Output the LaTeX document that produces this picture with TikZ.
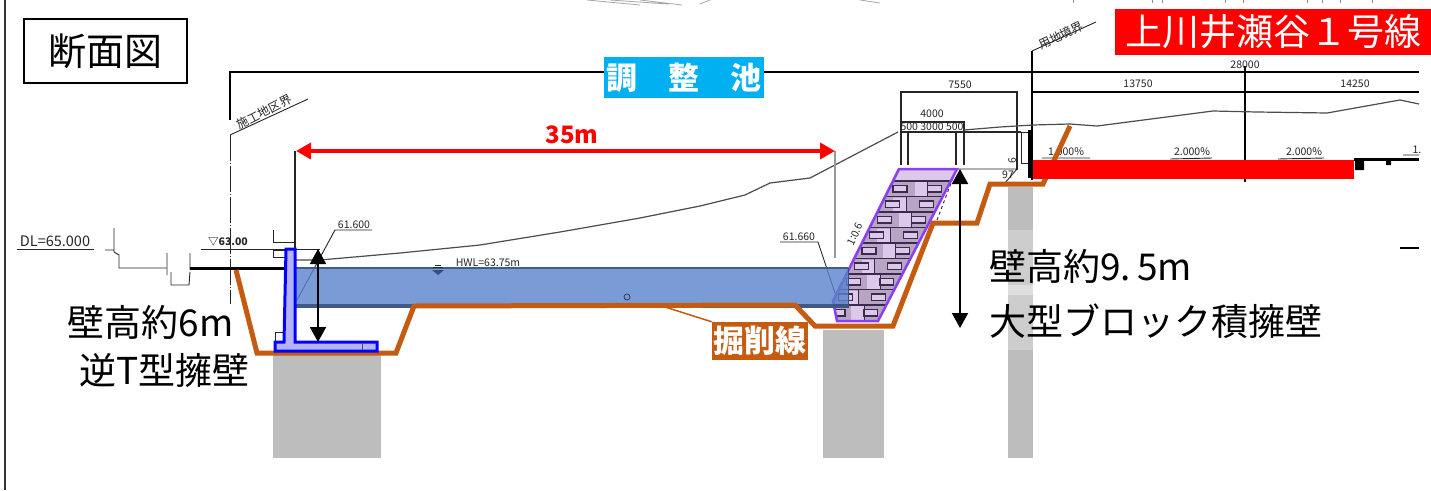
\documentclass[tikz,border=0pt]{standalone}
\usepackage{fontspec}
\setmainfont{Noto Sans CJK JP}
\usetikzlibrary{arrows.meta}
\definecolor{cutline}{HTML}{C55A11}
\definecolor{pondblue}{HTML}{5A83CC}
\definecolor{pilegrey}{HTML}{BDBDBD}
\definecolor{skyblue}{HTML}{00B0F0}
\definecolor{brickline}{HTML}{3A2A4E}
\definecolor{brickfill}{HTML}{DCC8E8}
\definecolor{brickdark}{HTML}{B8A5C4}
\begin{document}
\begin{tikzpicture}[x=1pt,y=-1pt,
		bigtext/.style={font=\fontsize{37}{40}\selectfont,inner sep=0pt},
		small/.style={font=\fontsize{10.5}{12}\selectfont,inner sep=0pt,text=black!85},
		thinline/.style={black!85,line width=0.9pt},
		dimline/.style={black,line width=1.4pt},
		pile/.style={fill=pilegrey,draw=none},
		span/.style={{Triangle[length=15pt,width=16pt]}-{Triangle[length=15pt,width=16pt]},line width=2pt},
		redspan/.style={{Triangle[length=15pt,width=16pt]}-{Triangle[length=15pt,width=16pt]},line width=4pt,red}]
	\useasboundingbox (0,0) rectangle (1431,490);
	\fill[white] (0,0) rectangle (1431,490);
	\draw[line width=2.5pt,black!80] (5,0) -- (5,490);
	\draw[black!35,line width=0.8pt] (587,0) -- (640,5) (610,0) -- (668,4) (640,0) -- (682,5) (700,4) -- (710,0) (860,0) -- (880,3);
	\draw[black!45,line width=0.8pt] (1073,0) -- (1073,3) (1152,0) -- (1152,3) (1162,0) -- (1162,3) (1225,0) -- (1225,3) (1243,0) -- (1243,3) (1307,0) -- (1307,3) (1322,0) -- (1322,3) (1340,0) -- (1340,3) (1372,0) -- (1372,3);
	\path[pile] (273,355) rectangle (381,458);
	\path[pile] (823,330) rectangle (884,458);
	\path[pile] (1008,187) rectangle (1033,458);
	\path[fill=pilegrey!75] (1008,230) rectangle (1033,350);
	\path[fill=pilegrey!50] (1008,285) rectangle (1033,295);
	\node[draw,line width=1.5pt,minimum width=163pt,minimum height=64pt,font=\fontsize{38}{40}\selectfont,inner sep=0pt] (title) at (105.5,51) {断面図};
	\draw[dimline] (230,120) -- (230,72) -- (1419,72);
	\draw[thinline] (230,135) -- (308,99);
	\draw[thinline,dash pattern=on 26pt off 2pt on 1pt off 2pt] (230,135) -- (230,304);
	\node[small,font=\fontsize{12}{14}\selectfont,rotate=27] (boundl) at (264,112) {施工地区界};
	\draw[dimline] (1032,180) -- (1032,51);
	\draw[thinline] (1032,51) -- (1096,22);
	\node[small,font=\fontsize{12}{14}\selectfont,rotate=25] (boundr) at (1061,35) {用地境界};
	\draw[dimline] (1032,92) -- (1419,92);
	\draw[dimline] (1245,66) -- (1245,182);
	\node[small] (w28000) at (1245,65) {28000};
	\node[small] (w13750) at (1138,84) {13750};
	\node[small] (w14250) at (1355,84) {14250};
	\node[small] (w7550) at (960,85) {7550};
	\draw[thinline,line width=1.2pt] (901,165) -- (901,92) -- (1017,92) -- (1017,170);
	\draw[thinline,line width=1.2pt] (901,122) -- (964,122) -- (964,165);
	\draw[thinline,line width=1.2pt] (901,132) -- (1021,132) (908,132) -- (908,165) (956,132) -- (956,165);
	\draw[thinline] (899,169) -- (1017,169) -- (1004,184);
	\node[small] (w4000) at (932,114) {4000};
	\node[small] (w3000) at (932,127) {500 3000 500};
	\node[small,rotate=90] (h6) at (1012,161) {6};
	\node[small] (h97) at (1008,175) {97};
	\draw[thinline] (1021,163) rectangle (1030,132);
	\draw[black,line width=3.5pt] (1030,130) -- (1030,178);
	\draw[thinline,black!70,line width=1.2pt] (296,260) -- (320,260) -- (400,253) -- (480,245) -- (560,232) -- (640,218) -- (700,206) -- (745,195) -- (770,183) -- (810,178) -- (898,132);
	\draw[thinline,black!70,line width=1.2pt] (964,130) -- (1000,127) -- (1033,125) -- (1070,124) -- (1097,126) -- (1213,111) -- (1257,112) -- (1327,113) -- (1400,100) -- (1419,104);
	\node[small] (s1) at (1066,152) {1.000\%};
	\node[small] (s2) at (1192,152) {2.000\%};
	\node[small] (s3) at (1304,152) {2.000\%};
	\node[small] (s4) at (1417,150) {1.};
	\draw[thinline] (1042,158) -- (1090,158) (1170,159) -- (1212,158) (1278,159) -- (1324,158) (1403,155) -- (1419,155);
	\draw[black,line width=3pt] (1354,159) -- (1419,159);
	\fill[black] (1355,160) rectangle (1364,170) (1386,160) rectangle (1391,165);
	\draw[black,line width=1.4pt] (1400,248) -- (1419,248);
	\node[small,font=\fontsize{14.5}{16}\selectfont] (dl) at (55,241) {DL=65.000};
	\draw[thinline] (17,249) -- (94,249);
	\draw[thinline] (114,228) -- (114,252) (105,250) -- (114,250) (114,252) -- (119,255) -- (119,268) -- (166,268) (167,253) -- (167,275) (171,272) -- (171,285) -- (189,285) -- (190,272) (190,253) -- (190,270);
	\draw[black,line width=3pt] (190,268) -- (285,268);
	\node[small,font=\bfseries\fontsize{10.5}{12}\selectfont] (lvl) at (228,242) {▽63.00};
	\draw[thinline] (201,249) -- (320,249);
	\draw[thinline] (273,230) -- (273,242) -- (295,242) (273,250) rectangle (285,257) (275,342) -- (275,332) -- (284,332);
	\draw[thinline,line width=1.4pt] (295,151) -- (295,262);
	\draw[black!40,line width=2pt] (835,151) -- (835,258);
	\node[small] (el1) at (354,225) {61.600};
	\draw[thinline] (372,230) -- (335,230) -- (297,300);
	\node[small] (el2) at (799,237) {61.660};
	\draw[thinline] (780,242) -- (818,242) -- (835,293);
	\draw[thinline,dashed] (953,178) -- (937,220);
	\begin{scope}
		\clip (899,169) -- (957,169) -- (878,321) -- (837,321) -- (833,301) -- cycle;
		\fill[brickfill] (820,165) rectangle (970,181);
		\fill[brickdark] (820,181) rectangle (970,325);
		\foreach \row in {0,...,8}{
			\pgfmathsetmacro\rowtop{181+15.5*\row}
			\pgfmathsetmacro\rowleft{899-0.5*(\rowtop+8-169)}
			\pgfmathsetmacro\rowright{957-0.52*(\rowtop+8-169)}
			\pgfmathsetmacro\joint{\rowleft+(\rowright-\rowleft)*(0.5+0.12*(-1)^\row)}
			\fill[brickfill] (\joint-10,\rowtop+1) rectangle (\joint+3,\rowtop+14.5);
			\draw[brickline,line width=1.4pt] (\rowleft-20,\rowtop) -- (\rowright+20,\rowtop);
			\draw[brickline,line width=1.2pt,fill=brickfill] (\rowleft+4,\rowtop+4.5) rectangle ++(14,6.5);
			\draw[brickline,line width=1.2pt,fill=brickfill] (\rowright-19,\rowtop+4.5) rectangle ++(14,6.5);
			\draw[brickline,line width=1pt] (\joint+3,\rowtop) -- ++(0,15.5);
		}
	\end{scope}
	\draw[line width=2.5pt,draw={rgb,255:red,138;green,63;blue,240}] (899,169) -- (957,169) -- (878,321) -- (837,321) -- (833,301) -- cycle;
	\node[small,rotate=63] (grade) at (855,234) {1:0.6};
	\fill[pondblue,opacity=0.8] (296,268) rectangle (848,308);
	\fill[pondblue!60!black,opacity=0.85] (296,304) rectangle (848,308);
	\draw[pondblue!70!black,line width=1.5pt] (296,268) -- (848,268);
	\draw[pondblue!60!black,line width=0.8pt] (848,268) -- (848,308);
	\fill[pondblue!60!black] (432,270) -- (444,270) -- (438,275) -- cycle;
	\draw[thinline] (433,267) -- (443,267) (435,265) -- (441,265);
	\node[small] (hwl) at (488,263) {HWL=63.75m};
	\draw[pondblue!40!black,line width=0.7pt] (627,297) circle (3pt);
	\draw[cutline,line width=5pt,line join=miter] (236,270) -- (257,353) -- (396,353) -- (414,306) -- (795,305) -- (815,326) -- (893,326) -- (933,223) -- (977,223) -- (990,184) -- (1043,184) -- (1070,126);
	\draw[line width=3pt,blue,fill={rgb,255:red,179;green,179;blue,245}] (286,249) -- (295,249) -- (295,342) -- (377,342) -- (377,351) -- (275,351) -- (275,342) -- (284,342) -- cycle;
	\draw[black!70,line width=0.9pt] (362,343) -- (362,350);
	\fill[red] (1033,160) rectangle (1354,179);
	\coordinate (wallt) at (318,249);
	\coordinate (wallb) at (318,342);
	\draw[span] (wallt) -- (wallb);
	\coordinate (blockt) at (960,169);
	\coordinate (blockb) at (960,328);
	\draw[span] (blockt) -- (blockb);
	\coordinate (pondl) at (296,151);
	\coordinate (pondr) at (835,151);
	\draw[redspan] (pondl) -- (pondr);
	\node[font=\bfseries\fontsize{24}{26}\selectfont,text=red,inner sep=0pt] (width) at (572,135) {35m};
	\node[fill=skyblue,text=white,minimum width=160pt,minimum height=41pt,inner sep=0pt,font=\bfseries\fontsize{31}{34}\selectfont] (pond) at (684,77.5) {調\hspace{1em}整\hspace{1em}池};
	\node[fill=red,text=white,minimum width=317pt,minimum height=46pt,inner sep=0pt,font=\fontsize{37}{40}\selectfont] (route) at (1273,32) {上川井瀬谷１号線};
	\coordinate (cutfoot) at (665,307);
	\node[fill=cutline,text=white,minimum width=96pt,minimum height=38pt,inner sep=0pt,font=\bfseries\fontsize{31}{33}\selectfont] (cut) at (760,341) {掘削線};
	\draw[cutline,line width=1.5pt] (cutfoot) -- (cut.north west);
	\node[bigtext,anchor=west] (h6m) at (67,322) {壁高約6\hspace{1pt}m};
	\node[bigtext,anchor=west] (tee) at (79,371) {逆T型擁壁};
	\node[bigtext,anchor=west] (h95m) at (989,266) {壁高約9.\hspace{6pt}5m};
	\node[bigtext,anchor=west] (block) at (989,321) {大型ブロック積擁壁};
\end{tikzpicture}
\end{document}
